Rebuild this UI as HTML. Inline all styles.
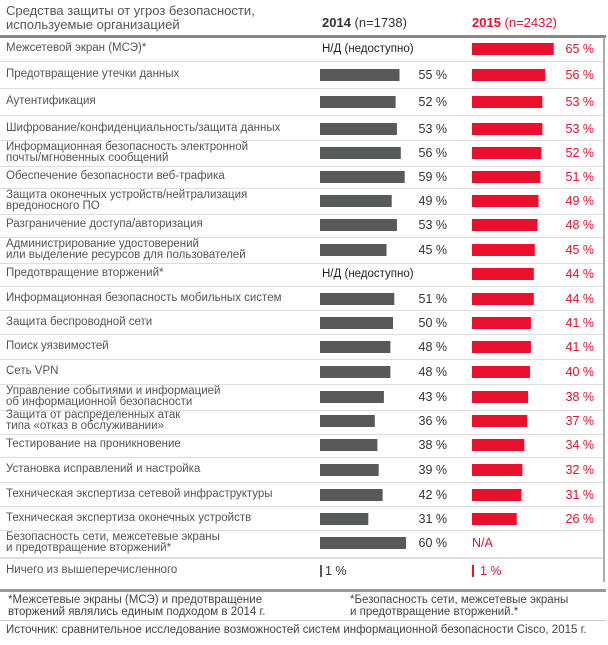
<!DOCTYPE html>
<html><head><meta charset="utf-8"><style>
body{margin:0;background:#fff;width:608px;height:640px;overflow:hidden;font-family:"Liberation Sans","DejaVu Sans",sans-serif}
svg text{font-family:"Liberation Sans","DejaVu Sans",sans-serif}
</style></head><body>
<svg id="c" width="608" height="640">
<text x="6" y="15" font-size="13" fill="#555">Средства защиты от угроз безопасности,</text>
<text x="6" y="29" font-size="13" fill="#555">используемые организацией</text>
<text x="322" y="27" font-size="13" fill="#333"><tspan font-weight="bold">2014</tspan> (n=1738)</text>
<text x="472" y="27" font-size="13" fill="#e8102c"><tspan font-weight="bold">2015</tspan> (n=2432)</text>
<rect x="0" y="35" width="606" height="3" fill="#888"/>
<rect x="603" y="37" width="2" height="545" fill="#aaa"/>
<rect x="0" y="589" width="606" height="3" fill="#999"/>
<text x="8" y="603" font-size="11.5" fill="#444">*Межсетевые экраны (МСЭ) и предотвращение</text>
<text x="8" y="615" font-size="11.5" fill="#444">вторжений являлись единым подходом в 2014 г.</text>
<text x="350" y="603" font-size="11.5" fill="#444">*Безопасность сети, межсетевые экраны</text>
<text x="350" y="615" font-size="11.5" fill="#444">и предотвращение вторжений.*</text>
<rect x="0" y="620" width="606" height="1" fill="#ccc"/>
<text x="6" y="633" font-size="11.5" fill="#444">Источник: сравнительное исследование возможностей систем информационной безопасности Cisco, 2015 г.</text>
</svg>
<script>
const labels=[["Межсетевой экран (МСЭ)*"],["Предотвращение утечки данных"],["Аутентификация"],["Шифрование/конфиденциальность/защита данных"],["Информационная безопасность электронной","почты/мгновенных сообщений"],["Обеспечение безопасности веб-трафика"],["Защита оконечных устройств/нейтрализация","вредоносного ПО"],["Разграничение доступа/авторизация"],["Администрирование удостоверений","или выделение ресурсов для пользователей"],["Предотвращение вторжений*"],["Информационная безопасность мобильных систем"],["Защита беспроводной сети"],["Поиск уязвимостей"],["Сеть VPN"],["Управление событиями и информацией","об информационной безопасности"],["Защита от распределенных атак","типа «отказ в обслуживании»"],["Тестирование на проникновение"],["Установка исправлений и настройка"],["Техническая экспертиза сетевой инфраструктуры"],["Техническая экспертиза оконечных устройств"],["Безопасность сети, межсетевые экраны","и предотвращение вторжений*"],["Ничего из вышеперечисленного"]];
const v2014=[null,55,52,53,56,59,49,53,45,null,51,50,48,48,43,36,38,39,42,31,60,1];
const v2015=[65,56,53,53,52,51,49,48,45,44,44,41,41,40,38,37,34,32,31,26,null,1];
const rowY=[48,74,101,128,152,176,200,224,249,273,298,322,346,371,396,420,444,469,494,518,542,570];
const svg=document.getElementById('c');const NS='http://www.w3.org/2000/svg';
function mk(t,a){const e=document.createElementNS(NS,t);for(const k in a)e.setAttribute(k,a[k]);svg.appendChild(e);return e;}
function w14(v){return v<=1?2:8+1.3*v;}
function w15(v){return v<=1?2:20+0.95*v;}
labels.forEach((L,i)=>{
 const y=rowY[i];
 if(i<labels.length-1){const ny=(i==20)?557:(y+rowY[i+1])/2+(L.length>1?2:0);const s=mk('rect',{x:0,y:Math.round(ny),width:603,height:i==20?2:1,fill:'#ddd'});
 
 }
 L.forEach((ln,j)=>{const t=mk('text',{x:6,y:L.length>1?y-2+j*11:y+3,'font-size':11.5,fill:'#555'});t.textContent=ln;
 
 });
 const a=v2014[i];
 if(a===null){const t=mk('text',{x:322,y:y+4,'font-size':11.5,fill:'#222'});t.textContent='Н/Д (недоступно)';
 
 }
 else{const b=mk('rect',{x:320,y:y-5,width:w14(a),height:12,fill:'#58595b'});
 
 
 const t=mk('text',{x:a<=1?325:447,y:y+5,'font-size':12.5,fill:'#333','text-anchor':a<=1?'start':'end'});t.textContent=a+' %';
 
 }
 const c=v2015[i];
 if(c===null){const t=mk('text',{x:472,y:y+5,'font-size':12.5,fill:'#e8102c'});t.textContent='N/A';
 
 }
 else{const b=mk('rect',{x:472,y:y-5,width:w15(c),height:12,fill:'#e8102c'});
 
 
 const t=mk('text',{x:c<=1?480:594,y:y+5,'font-size':12.5,fill:'#e8102c','text-anchor':c<=1?'start':'end'});t.textContent=c+' %';
 
 }
});
</script>
</body></html>
